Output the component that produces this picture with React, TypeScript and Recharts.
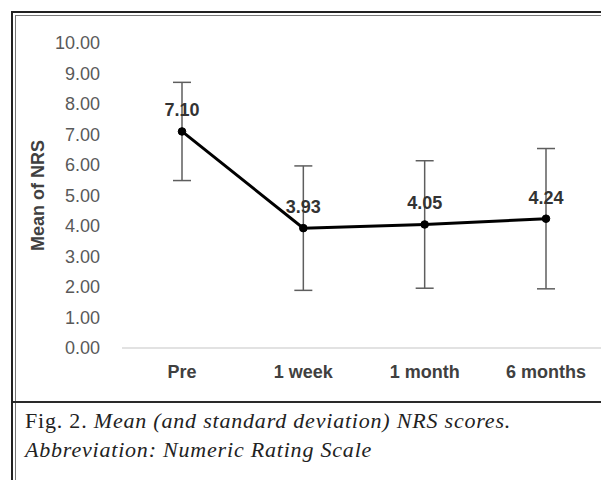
import React from "react";
import { LineChart, Line, XAxis, YAxis, ErrorBar, LabelList } from "recharts";

// values
const CATEGORIES = ["Pre", "1 week", "1 month", "6 months"];
const MEANS = [7.1, 3.93, 4.05, 4.24];
const SDS = [1.61, 2.04, 2.09, 2.3];
const Y_TICKS = [0, 1, 2, 3, 4, 5, 6, 7, 8, 9, 10];

const data = CATEGORIES.map((name, i) => ({ name, mean: MEANS[i], sd: SDS[i] }));

const FONT = "'Liberation Sans', Arial, sans-serif";

const ValueLabel = (props: any) => {
  const { x, y, value } = props;
  return (
    <text
      x={x}
      y={y - 15}
      textAnchor="middle"
      fontFamily={FONT}
      fontSize={18}
      fontWeight="bold"
      fill="#333"
    >
      {Number(value).toFixed(2)}
    </text>
  );
};

const AxisTitle = (props: any) => {
  const { viewBox } = props;
  const cx = viewBox.x + 38;
  const cy = viewBox.y + viewBox.height / 2;
  return (
    <text
      x={cx}
      y={cy}
      transform={`rotate(-90 ${cx} ${cy})`}
      textAnchor="middle"
      dominantBaseline="central"
      fontFamily={FONT}
      fontSize={18}
      fontWeight="bold"
      fill="#404040"
    >
      Mean of NRS
    </text>
  );
};

export default function App() {
  return (
    <div
      style={{
        position: "absolute",
        left: 0,
        top: 0,
        width: 601,
        height: 480,
        overflow: "hidden",
        background: "#fff",
      }}
    >
      <div style={{ position: "absolute", left: 0, top: 0 }}>
        <LineChart
          width={640}
          height={400}
          data={data}
          margin={{ top: 43, right: 34, bottom: 22, left: 0 }}
        >
          <XAxis
            dataKey="name"
            height={30}
            padding={{ left: 60, right: 60 }}
            axisLine={{ stroke: "#d9d9d9", strokeWidth: 1.5 }}
            tickLine={false}
            tickSize={0}
            tickMargin={17}
            tick={{ fontFamily: FONT, fontSize: 18, fontWeight: "bold", fill: "#404040" }}
          />
          <YAxis
            width={122}
            domain={[0, 10]}
            ticks={Y_TICKS}
            interval={0}
            axisLine={false}
            tickLine={false}
            tickSize={0}
            tickMargin={22}
            tickFormatter={(v: number) => v.toFixed(2)}
            tick={{ fontFamily: FONT, fontSize: 18, fill: "#595959" }}
            label={<AxisTitle />}
          />
          <Line
            dataKey="mean"
            stroke="#000"
            strokeWidth={3}
            dot={{ r: 3.8, fill: "#000", stroke: "#000", strokeWidth: 1 }}
            activeDot={false}
            isAnimationActive={false}
          >
            <ErrorBar dataKey="sd" direction="y" width={9} stroke="#5e5e5e" strokeWidth={1.5} />
            <LabelList dataKey="mean" content={<ValueLabel />} />
          </Line>
        </LineChart>
      </div>

      {/* frame */}
      <div style={{ position: "absolute", left: 11, top: 11, width: 600, height: 2, background: "#222" }} />
      <div style={{ position: "absolute", left: 11, top: 11, width: 2, height: 480, background: "#222" }} />
      <div style={{ position: "absolute", left: 15, top: 15, width: 600, height: 1, background: "#777" }} />
      <div style={{ position: "absolute", left: 15, top: 15, width: 1, height: 480, background: "#777" }} />
      <div style={{ position: "absolute", left: 13, top: 401, width: 600, height: 2, background: "#2a2a2a" }} />

      <div
        style={{
          position: "absolute",
          left: 25,
          top: 406,
          fontFamily: "'Liberation Serif', serif",
          fontSize: 22,
          letterSpacing: 0.8,
          lineHeight: "29px",
          color: "#222",
          whiteSpace: "nowrap",
        }}
      >
        Fig. 2. <i>Mean (and standard deviation) NRS scores.</i>
        <br />
        <i>Abbreviation: Numeric Rating Scale</i>
      </div>
    </div>
  );
}
